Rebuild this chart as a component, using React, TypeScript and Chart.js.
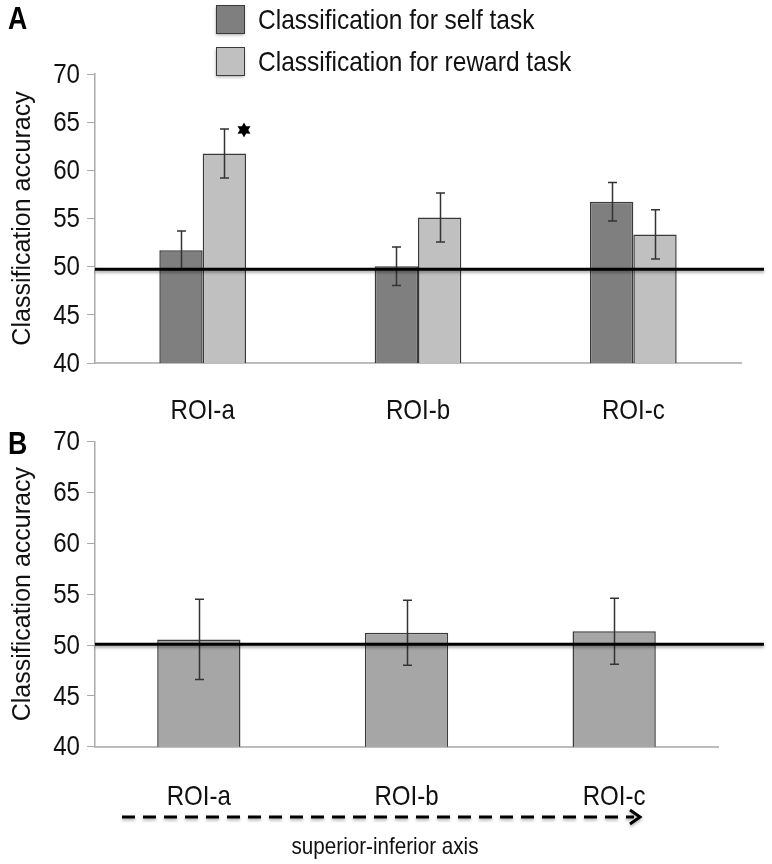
import React, { useEffect, useRef } from 'react';
import { Chart, registerables } from 'chart.js';

Chart.register(...registerables);

// ---------- data ----------
const categories = ['ROI-a', 'ROI-b', 'ROI-c'];
const seriesLabels = ['Classification for self task', 'Classification for reward task'];
const selfTaskAccuracy = [51.7, 50.05, 56.75];
const selfTaskError = [2.0, 2.0, 2.0];
const rewardTaskAccuracy = [61.75, 55.1, 53.35];
const rewardTaskError = [2.55, 2.55, 2.55];
const panelBAccuracy = [50.55, 51.2, 51.35];
const panelBError = [3.95, 3.2, 3.25];
const chanceLevelA = [49.72];
const chanceLevelB = [50.07];
const significantBars = [{ dataset: 1, index: 0 }];
const yTicks = [40, 45, 50, 55, 60, 65, 70];
const yTitle = 'Classification accuracy';
const arrowLabel = 'superior-inferior axis';
const panelLetters = ['A', 'B'];

// ---------- styles ----------
const FONT = '"Liberation Sans", Arial, sans-serif';
const NARROW_X = 0.86;
const SELF_COLOR = '#7f7f7f';
const REWARD_COLOR = '#c0c0c0';
const B_COLOR = '#a6a6a6';
const BORDER = '#3a3a3a';
const TEXT = '#111';
const CHART_W = 772;

function narrowText(
  ctx: CanvasRenderingContext2D,
  text: string,
  x: number,
  y: number,
  size: number,
  align: CanvasTextAlign,
  weight = 'normal'
) {
  ctx.save();
  ctx.translate(x, y);
  ctx.scale(NARROW_X, 1);
  ctx.font = `${weight} ${size}px ${FONT}`;
  ctx.textAlign = align;
  ctx.textBaseline = 'middle';
  ctx.fillText(text, 0, 0);
  ctx.restore();
}

const axisLabelsPlugin = (xLabelY: number) => ({
  id: 'axisLabels',
  afterDraw(chart: any) {
    const { ctx } = chart;
    const xs = chart.scales.x;
    const ys = chart.scales.y;
    ctx.save();
    ctx.fillStyle = TEXT;
    ys.ticks.forEach((t: any) => {
      narrowText(ctx, String(t.value), ys.right - 15, ys.getPixelForValue(t.value) + 1, 28, 'right');
    });
    (chart.data.labels as string[]).forEach((lab, i) => {
      narrowText(ctx, lab, xs.getPixelForTick(i), xs.top + xLabelY, 28, 'center');
    });
    ctx.restore();
  },
});

const errorBarsPlugin = (errors: number[][]) => ({
  id: 'errorBars',
  afterDatasetsDraw(chart: any) {
    const { ctx } = chart;
    const ys = chart.scales.y;
    ctx.save();
    ctx.strokeStyle = '#333';
    ctx.lineWidth = 1.5;
    chart.data.datasets.forEach((ds: any, di: number) => {
      const meta = chart.getDatasetMeta(di);
      meta.data.forEach((el: any, i: number) => {
        const v = ds.data[i] as number;
        const e = errors[di][i];
        const x = Math.round(el.x) + 0.5;
        const yt = ys.getPixelForValue(v + e);
        const yb = ys.getPixelForValue(v - e);
        ctx.beginPath();
        ctx.moveTo(x, yt);
        ctx.lineTo(x, yb);
        ctx.moveTo(x - 4.5, yt);
        ctx.lineTo(x + 4.5, yt);
        ctx.moveTo(x - 4.5, yb);
        ctx.lineTo(x + 4.5, yb);
        ctx.stroke();
      });
    });
    ctx.restore();
  },
});

const chancePlugin = (level: number, endX: number) => ({
  id: 'chanceLine',
  afterDatasetsDraw(chart: any) {
    const { ctx, chartArea } = chart;
    const y = chart.scales.y.getPixelForValue(level);
    ctx.save();
    ctx.shadowColor = 'rgba(0,0,0,0.35)';
    ctx.shadowBlur = 3;
    ctx.shadowOffsetY = 2;
    ctx.strokeStyle = '#000';
    ctx.lineWidth = 3;
    ctx.beginPath();
    ctx.moveTo(chartArea.left, y);
    ctx.lineTo(endX, y);
    ctx.stroke();
    ctx.restore();
  },
});

const starPlugin = (marks: { dataset: number; index: number }[], errors: number[][]) => ({
  id: 'sigStar',
  afterDatasetsDraw(chart: any) {
    const { ctx } = chart;
    const ys = chart.scales.y;
    marks.forEach((m) => {
      const el: any = chart.getDatasetMeta(m.dataset).data[m.index];
      const v = chart.data.datasets[m.dataset].data[m.index] as number;
      const cx = el.x + el.width / 2 - 2;
      const cy = ys.getPixelForValue(v + errors[m.dataset][m.index]) + 1;
      const R = 7.5;
      const r = 4.2;
      ctx.save();
      ctx.fillStyle = '#000';
      ctx.beginPath();
      for (let k = 0; k < 12; k++) {
        const rad = k % 2 === 0 ? R : r;
        const a = -Math.PI / 2 + (k * Math.PI) / 6;
        const px = cx + rad * Math.cos(a);
        const py = cy + rad * Math.sin(a);
        if (k === 0) ctx.moveTo(px, py);
        else ctx.lineTo(px, py);
      }
      ctx.closePath();
      ctx.fill();
      ctx.restore();
    });
  },
});

const legendPlugin = {
  id: 'customLegend',
  afterDraw(chart: any) {
    const { ctx } = chart;
    ctx.save();
    chart.data.datasets.forEach((ds: any, i: number) => {
      const top = 5 + i * 42;
      ctx.save();
      ctx.shadowColor = 'rgba(0,0,0,0.35)';
      ctx.shadowBlur = 3;
      ctx.shadowOffsetY = 2;
      ctx.fillStyle = ds.backgroundColor;
      ctx.fillRect(216, top, 28, 28);
      ctx.restore();
      ctx.strokeStyle = BORDER;
      ctx.lineWidth = 1;
      ctx.strokeRect(216.5, top + 0.5, 28, 28);
      ctx.fillStyle = TEXT;
      narrowText(ctx, ds.label, 258, top + 16, 28.5, 'left');
    });
    ctx.restore();
  },
};

const letterPlugin = (letter: string, x: number, y: number) => ({
  id: 'panelLetter',
  afterDraw(chart: any) {
    const { ctx } = chart;
    ctx.save();
    ctx.fillStyle = '#000';
    narrowText(ctx, letter, x, y, 31, 'left', 'bold');
    ctx.restore();
  },
});

const arrowPlugin = (label: string, y: number) => ({
  id: 'axisArrow',
  afterDraw(chart: any) {
    const { ctx } = chart;
    ctx.save();
    ctx.strokeStyle = '#000';
    ctx.lineWidth = 3;
    ctx.shadowColor = 'rgba(0,0,0,0.3)';
    ctx.shadowBlur = 3;
    ctx.shadowOffsetY = 2;
    ctx.setLineDash([13, 8]);
    ctx.beginPath();
    ctx.moveTo(122, y);
    ctx.lineTo(634, y);
    ctx.stroke();
    ctx.setLineDash([]);
    ctx.beginPath();
    ctx.moveTo(630, y - 7);
    ctx.lineTo(640, y);
    ctx.lineTo(630, y + 7);
    ctx.stroke();
    ctx.restore();
    ctx.save();
    ctx.fillStyle = TEXT;
    narrowText(ctx, label, 385, y + 30, 24, 'center');
    ctx.restore();
  },
});

function buildOptions(opts: { top: number; right: number; xHeight: number; barFrac: number }) {
  return {
    responsive: false,
    maintainAspectRatio: false,
    animation: false as const,
    layout: { padding: { top: opts.top, right: opts.right, bottom: 0, left: 0 } },
    plugins: { legend: { display: false }, tooltip: { enabled: false } },
    datasets: { bar: { categoryPercentage: opts.barFrac, barPercentage: 1 } },
    scales: {
      x: {
        grid: { display: false, drawTicks: false },
        border: { display: true, color: '#bdbdbd', width: 2 },
        ticks: { display: false },
        afterFit: (s: any) => {
          s.height = opts.xHeight;
        },
      },
      y: {
        min: yTicks[0],
        max: yTicks[yTicks.length - 1],
        afterBuildTicks: (s: any) => {
          s.ticks = yTicks.map((v) => ({ value: v }));
        },
        grid: { drawOnChartArea: false, drawTicks: true, tickLength: 8, color: '#aaa', lineWidth: 1 },
        border: { display: true, color: '#aaa', width: 1.5 },
        ticks: { display: false },
        title: {
          display: true,
          text: yTitle,
          color: TEXT,
          font: { family: FONT, size: 25 },
          padding: { top: 8, bottom: 0 },
        },
        afterFit: (s: any) => {
          s.width = 95;
        },
      },
    },
  };
}

function PanelA() {
  const ref = useRef<HTMLCanvasElement>(null);
  useEffect(() => {
    const errors = [selfTaskError, rewardTaskError];
    const chart = new Chart(ref.current!, {
      type: 'bar',
      data: {
        labels: categories,
        datasets: [
          {
            label: seriesLabels[0],
            data: selfTaskAccuracy,
            backgroundColor: SELF_COLOR,
            borderColor: BORDER,
            borderWidth: 1.5,
            borderSkipped: 'bottom',
          },
          {
            label: seriesLabels[1],
            data: rewardTaskAccuracy,
            backgroundColor: REWARD_COLOR,
            borderColor: BORDER,
            borderWidth: 1.5,
            borderSkipped: 'bottom',
          },
        ],
      },
      options: buildOptions({ top: 74, right: CHART_W - 741, xHeight: 67, barFrac: 0.4026 }) as any,
      plugins: [
        errorBarsPlugin(errors),
        chancePlugin(chanceLevelA[0], 764),
        starPlugin(significantBars, errors),
        axisLabelsPlugin(48),
        legendPlugin,
        letterPlugin(panelLetters[0], 8, 20),
      ],
    });
    return () => chart.destroy();
  }, []);
  return (
    <canvas
      ref={ref}
      width={CHART_W}
      height={430}
      style={{ position: 'absolute', left: 0, top: 0, width: CHART_W, height: 430 }}
    />
  );
}

function PanelB() {
  const ref = useRef<HTMLCanvasElement>(null);
  useEffect(() => {
    const errors = [panelBError];
    const chart = new Chart(ref.current!, {
      type: 'bar',
      data: {
        labels: categories,
        datasets: [
          {
            label: 'Classification accuracy',
            data: panelBAccuracy,
            backgroundColor: B_COLOR,
            borderColor: BORDER,
            borderWidth: 1.5,
            borderSkipped: 'bottom',
          },
        ],
      },
      options: buildOptions({ top: 41.7, right: CHART_W - 718, xHeight: 117.3, barFrac: 0.401 }) as any,
      plugins: [
        errorBarsPlugin(errors),
        chancePlugin(chanceLevelB[0], 764),
        axisLabelsPlugin(51),
        letterPlugin(panelLetters[1], 8, 45),
        arrowPlugin(arrowLabel, 417),
      ],
    });
    return () => chart.destroy();
  }, []);
  return (
    <canvas
      ref={ref}
      width={CHART_W}
      height={464}
      style={{ position: 'absolute', left: 0, top: 400, width: CHART_W, height: 464 }}
    />
  );
}

export default function App() {
  return (
    <div style={{ position: 'absolute', left: 0, top: 0, width: CHART_W, height: 864, background: '#fff' }}>
      <PanelA />
      <PanelB />
    </div>
  );
}
